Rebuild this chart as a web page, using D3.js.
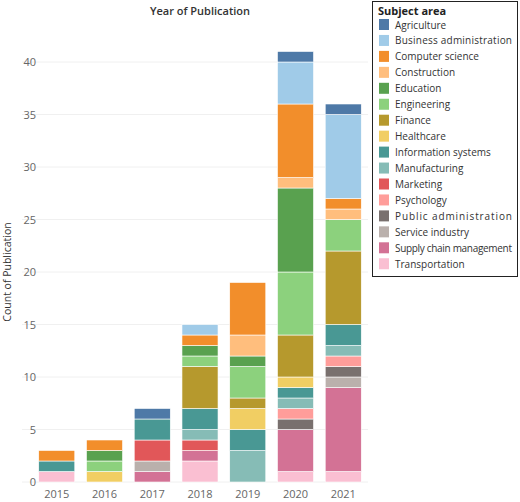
<!DOCTYPE html><html><head><meta charset="utf-8"><script src="https://cdn.jsdelivr.net/npm/d3@7"></script>
<style>body{margin:0;background:#fff;font-family:"Open Sans",sans-serif}</style></head><body><svg id="c" width="520" height="502"></svg>
<script>
const years=["2015","2016","2017","2018","2019","2020","2021"];
const subjects=["Agriculture","Business administration","Computer science","Construction","Education","Engineering","Finance","Healthcare","Information systems","Manufacturing","Marketing","Psychology","Public administration","Service industry","Supply chain management","Transportation"];
const colors=["#4e79a7","#a0cbe8","#f28e2b","#ffbe7d","#59a14f","#8cd17d","#b6992d","#f1ce63","#499894","#86bcb6","#e15759","#ff9d9a","#79706e","#bab0ac","#d37295","#fabfd2"];
// values per subject, per year
const Agriculture=[0,0,1,0,0,1,1];
const BusinessAdmin=[0,0,0,1,0,4,8];
const ComputerScience=[1,1,0,1,5,7,1];
const Construction=[0,0,0,0,2,1,1];
const Education=[0,1,0,1,1,8,0];
const Engineering=[0,1,0,1,3,6,3];
const Finance=[0,0,0,4,1,4,7];
const Healthcare=[0,1,0,0,2,1,0];
const InformationSystems=[1,0,2,2,2,1,2];
const Manufacturing=[0,0,0,1,3,1,1];
const Marketing=[0,0,2,1,0,0,0];
const Psychology=[0,0,0,0,0,1,1];
const PublicAdmin=[0,0,0,0,0,1,1];
const ServiceIndustry=[0,0,1,0,0,0,1];
const SupplyChain=[0,0,1,1,0,4,8];
const Transportation=[1,0,0,2,0,1,1];
const series=[Agriculture,BusinessAdmin,ComputerScience,Construction,Education,Engineering,Finance,Healthcare,InformationSystems,Manufacturing,Marketing,Psychology,PublicAdmin,ServiceIndustry,SupplyChain,Transportation];
const yTicks=[0,5,10,15,20,25,30,35,40];

const svg=d3.select("#c");
const x=d3.scaleBand().domain(years).range([33,367]).paddingInner(0.245).paddingOuter(0.12);
const y=d3.scaleLinear().domain([0,42]).range([482,41]);
const g=svg.append("g");
yTicks.forEach(t=>{g.append("line").attr("x1",22).attr("x2",368).attr("y1",y(t)).attr("y2",y(t)).attr("stroke","#f0f0f0");});
const ya=svg.append("g").attr("transform","translate(40,0)").call(d3.axisLeft(y).tickValues(yTicks).tickSize(0).tickPadding(4));
ya.select(".domain").remove();
ya.selectAll("text").attr("fill","#666").style("font-size","11px").style("font-family","Open Sans");
const xa=svg.append("g").attr("transform","translate(0,488)").call(d3.axisBottom(x).tickSize(0).tickPadding(2));
xa.select(".domain").remove();
xa.selectAll("text").attr("fill","#666").style("font-size","11px").style("font-family","Open Sans");
years.forEach((yr,i)=>{
  let acc=0;
  for(let s=subjects.length-1;s>=0;s--){
    const v=series[s][i]; if(!v) continue;
    svg.append("rect").attr("x",x(yr)).attr("width",x.bandwidth()).attr("y",y(acc+v)).attr("height",y(acc)-y(acc+v)).attr("fill",colors[s]).attr("stroke","#fff").attr("stroke-width",0.6);
    acc+=v;
  }
});
svg.append("text").attr("x",200).attr("y",15).attr("text-anchor","middle").style("font-size","11px").style("font-weight","600").attr("fill","#333").text("Year of Publication");
svg.append("text").attr("transform","translate(11,272) rotate(-90)").attr("text-anchor","middle").style("font-size","10.5px").attr("fill","#333").text("Count of Publication");
const lg=svg.append("g");
lg.append("rect").attr("x",372.5).attr("y",1.5).attr("width",145).attr("height",275).attr("fill","#fff").attr("stroke","#222");
lg.append("text").attr("x",378).attr("y",15).style("font-size","11px").style("font-weight","700").attr("fill","#222").text("Subject area");
subjects.forEach((s,i)=>{
  const yy=19+i*15.95;
  lg.append("rect").attr("x",379).attr("y",yy).attr("width",10).attr("height",11).attr("fill",colors[i]);
  lg.append("text").attr("x",395).attr("y",yy+9.5).style("font-size","10px").attr("textLength",s.length>20?117:null).attr("fill","#333").text(s);
});
</script></body></html>
